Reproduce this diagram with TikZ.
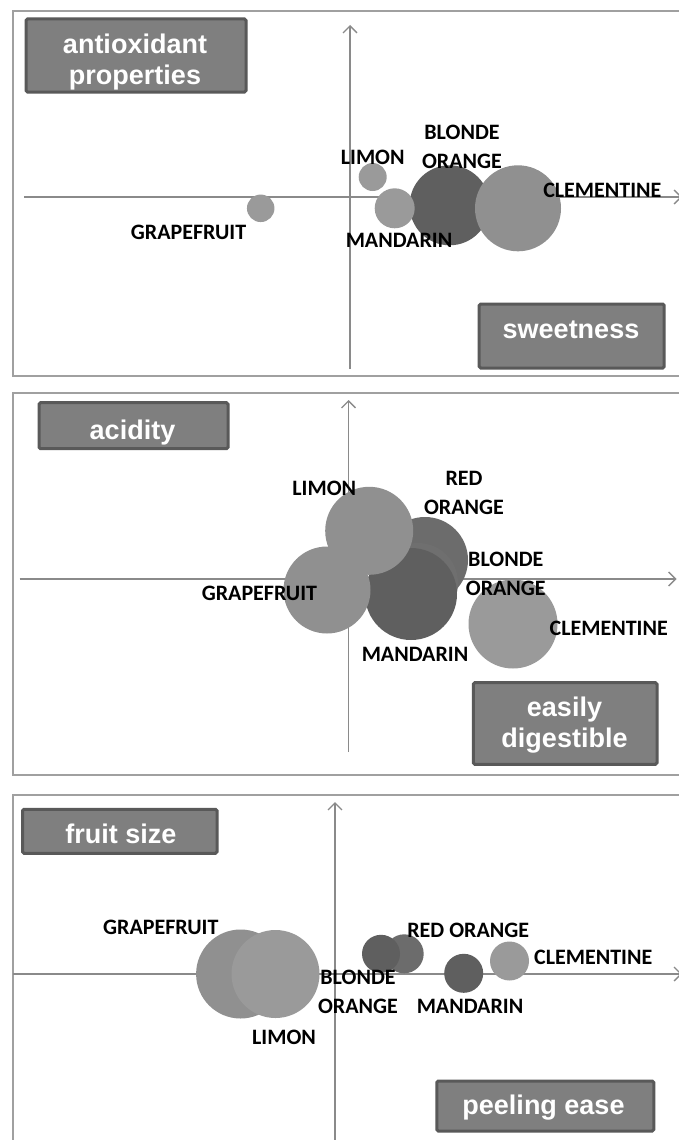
\documentclass[tikz,border=0pt]{standalone}
\usepackage{fontspec}
\setmainfont{Liberation Sans}
\newfontfamily\fruitfont{Carlito}
\usetikzlibrary{arrows.meta}

\definecolor{framegray}{HTML}{A0A0A0}
\definecolor{axisgray}{HTML}{8A8A8A}
\definecolor{boxfill}{HTML}{7F7F7F}
\definecolor{boxedge}{HTML}{595959}
\definecolor{lightfruit}{HTML}{9A9A9A}
\definecolor{midfruit}{HTML}{909090}
\definecolor{darkfruit}{HTML}{5F5F5F}
\definecolor{redfruit}{HTML}{6C6C6C}

\tikzset{
  fruit/.style={circle, draw=none, inner sep=0pt, minimum size=#1},
  fruitlabel/.style={font=\fruitfont\bfseries\fontsize{22}{29}\selectfont, inner sep=0pt, align=center},
  axisbox/.style={draw=boxedge, line width=3pt, fill=boxfill, rounded corners=1.5pt, inner sep=0pt},
  boxtext/.style={text=white, font=\bfseries\fontsize{27}{30.5}\selectfont, align=center, inner sep=0pt},
  axisline/.style={draw=axisgray, line width=1.3pt},
  panelframe/.style={draw=framegray, line width=1.3pt}
}

\begin{document}
\begin{tikzpicture}[x=1pt,y=-1pt,>={Straight Barb[length=7pt,width=14pt]}]
    \useasboundingbox [fill=white] (0,0) rectangle (678,1140);

    % panel frames (right side runs off the page)
    \foreach \top/\bot in {11/376,393/775,795/1150}
    \draw [panelframe] (700,\top) -- (13,\top) -- (13,\bot) -- (700,\bot);

    % ---- panel 1 : sweetness / antioxidant properties ----
    \coordinate (x1a) at (24,197);   \coordinate (x1b) at (682,197);
    \coordinate (y1a) at (350,369);  \coordinate (y1b) at (350,25);
    \draw [axisline,->] (x1a) -- (x1b);
    \draw [axisline,->] (y1a) -- (y1b);
    \node [axisbox, minimum width=220pt, minimum height=73pt] (antiox) at (136,55.5) {};
    \node [boxtext] (antioxtxt) at (135,62) {antioxidant\\properties};
    \node [axisbox, minimum width=185pt, minimum height=64pt] (sweet) at (571.7,336) {};
    \node [boxtext] (sweettxt) at (571,330) {sweetness};

    \node [fruit=80pt, fill=darkfruit] (blonde1) at (449.6,205.3) {};
    \node [fruit=86pt, fill=midfruit] (clem1) at (518,208.3) {};
    \node [fruit=40pt, fill=lightfruit] (mand1) at (394.7,208.3) {};
    \node [fruit=28pt, fill=lightfruit] (limon1) at (372.7,177) {};
    \node [fruit=27.5pt, fill=lightfruit] (grape1) at (260.7,208.3) {};

    \node [fruitlabel] (blonde1lbl) at (462,147) {BLONDE\\ORANGE};
    \node [fruitlabel] (limon1lbl) at (372.7,157.3) {LIMON};
    \node [fruitlabel] (clem1lbl) at (602.3,190) {CLEMENTINE};
    \node [fruitlabel] (grape1lbl) at (188.5,232.3) {GRAPEFRUIT};
    \node [fruitlabel] (mand1lbl) at (399,240) {MANDARIN};

    % ---- panel 2 : easily digestible / acidity ----
    \coordinate (x2a) at (19.5,579);  \coordinate (x2b) at (676.5,579);
    \coordinate (y2a) at (348.5,752); \coordinate (y2b) at (348.5,400);
    \draw [axisline,->] (x2a) -- (x2b);
    \draw [axisline,->] (y2a) -- (y2b);
    \node [axisbox, minimum width=189pt, minimum height=46pt] (acid) at (133.5,425.7) {};
    \node [boxtext] (acidtxt) at (132.5,432.4) {acidity};
    \node [axisbox, minimum width=183.6pt, minimum height=81.6pt] (digest) at (565.2,723.5) {};
    \node [boxtext] (digesttxt) at (564.5,725) {easily\\digestible};

    \node [fruit=86pt, fill=redfruit] (red2) at (425,560) {};
    \node [fruit=80pt, fill=darkfruit!90!white] (blonde2) at (418,583) {};
    \node [fruit=92pt, fill=darkfruit] (mand2) at (411,594) {};
    \node [fruit=88pt, fill=midfruit] (limon2) at (369.2,530.8) {};
    \node [fruit=87pt, fill=midfruit] (grape2) at (327,590) {};
    \node [fruit=89pt, fill=lightfruit] (clem2) at (513,624) {};

    \node [fruitlabel] (red2lbl) at (464,493) {RED\\ORANGE};
    \node [fruitlabel] (limon2lbl) at (324.3,488.3) {LIMON};
    \node [fruitlabel] (blonde2lbl) at (505.8,573.7) {BLONDE\\ORANGE};
    \node [fruitlabel] (grape2lbl) at (259.4,593.3) {GRAPEFRUIT};
    \node [fruitlabel] (clem2lbl) at (608.7,628.7) {CLEMENTINE};
    \node [fruitlabel] (mand2lbl) at (415,654.3) {MANDARIN};

    % ---- panel 3 : peeling ease / fruit size ----
    \coordinate (x3a) at (13,974);    \coordinate (x3b) at (682,974);
    \coordinate (y3a) at (335,1145);  \coordinate (y3b) at (335,802);
    \draw [axisline,->] (x3a) -- (x3b);
    \draw [axisline,->] (y3a) -- (y3b);
    \node [axisbox, minimum width=194.5pt, minimum height=44pt] (size) at (119.8,831.3) {};
    \node [boxtext] (sizetxt) at (121,833.4) {fruit size};
    \node [axisbox, minimum width=217pt, minimum height=50pt] (peel) at (545.3,1106) {};
    \node [boxtext] (peeltxt) at (543.5,1108) {peeling ease};

    \node [fruit=89pt, fill=midfruit] (grape3) at (240.6,974) {};
    \node [fruit=88pt, fill=lightfruit] (limon3) at (275.5,974) {};
    \node [fruit=39pt, fill=redfruit] (red3) at (404.2,953.8) {};
    \node [fruit=38pt, fill=darkfruit] (blonde3) at (381,953.8) {};
    \node [fruit=39pt, fill=darkfruit] (mand3) at (463.7,973.3) {};
    \node [fruit=39pt, fill=lightfruit] (clem3) at (509.5,961) {};

    \node [fruitlabel] (grape3lbl) at (160.8,927.7) {GRAPEFRUIT};
    \node [fruitlabel] (red3lbl) at (468.2,930.7) {RED ORANGE};
    \node [fruitlabel] (clem3lbl) at (593.2,957.7) {CLEMENTINE};
    \node [fruitlabel] (blonde3lbl) at (358,991.7) {BLONDE\\ORANGE};
    \node [fruitlabel] (mand3lbl) at (470,1006.7) {MANDARIN};
    \node [fruitlabel] (limon3lbl) at (284,1037.3) {LIMON};
\end{tikzpicture}
\end{document}
